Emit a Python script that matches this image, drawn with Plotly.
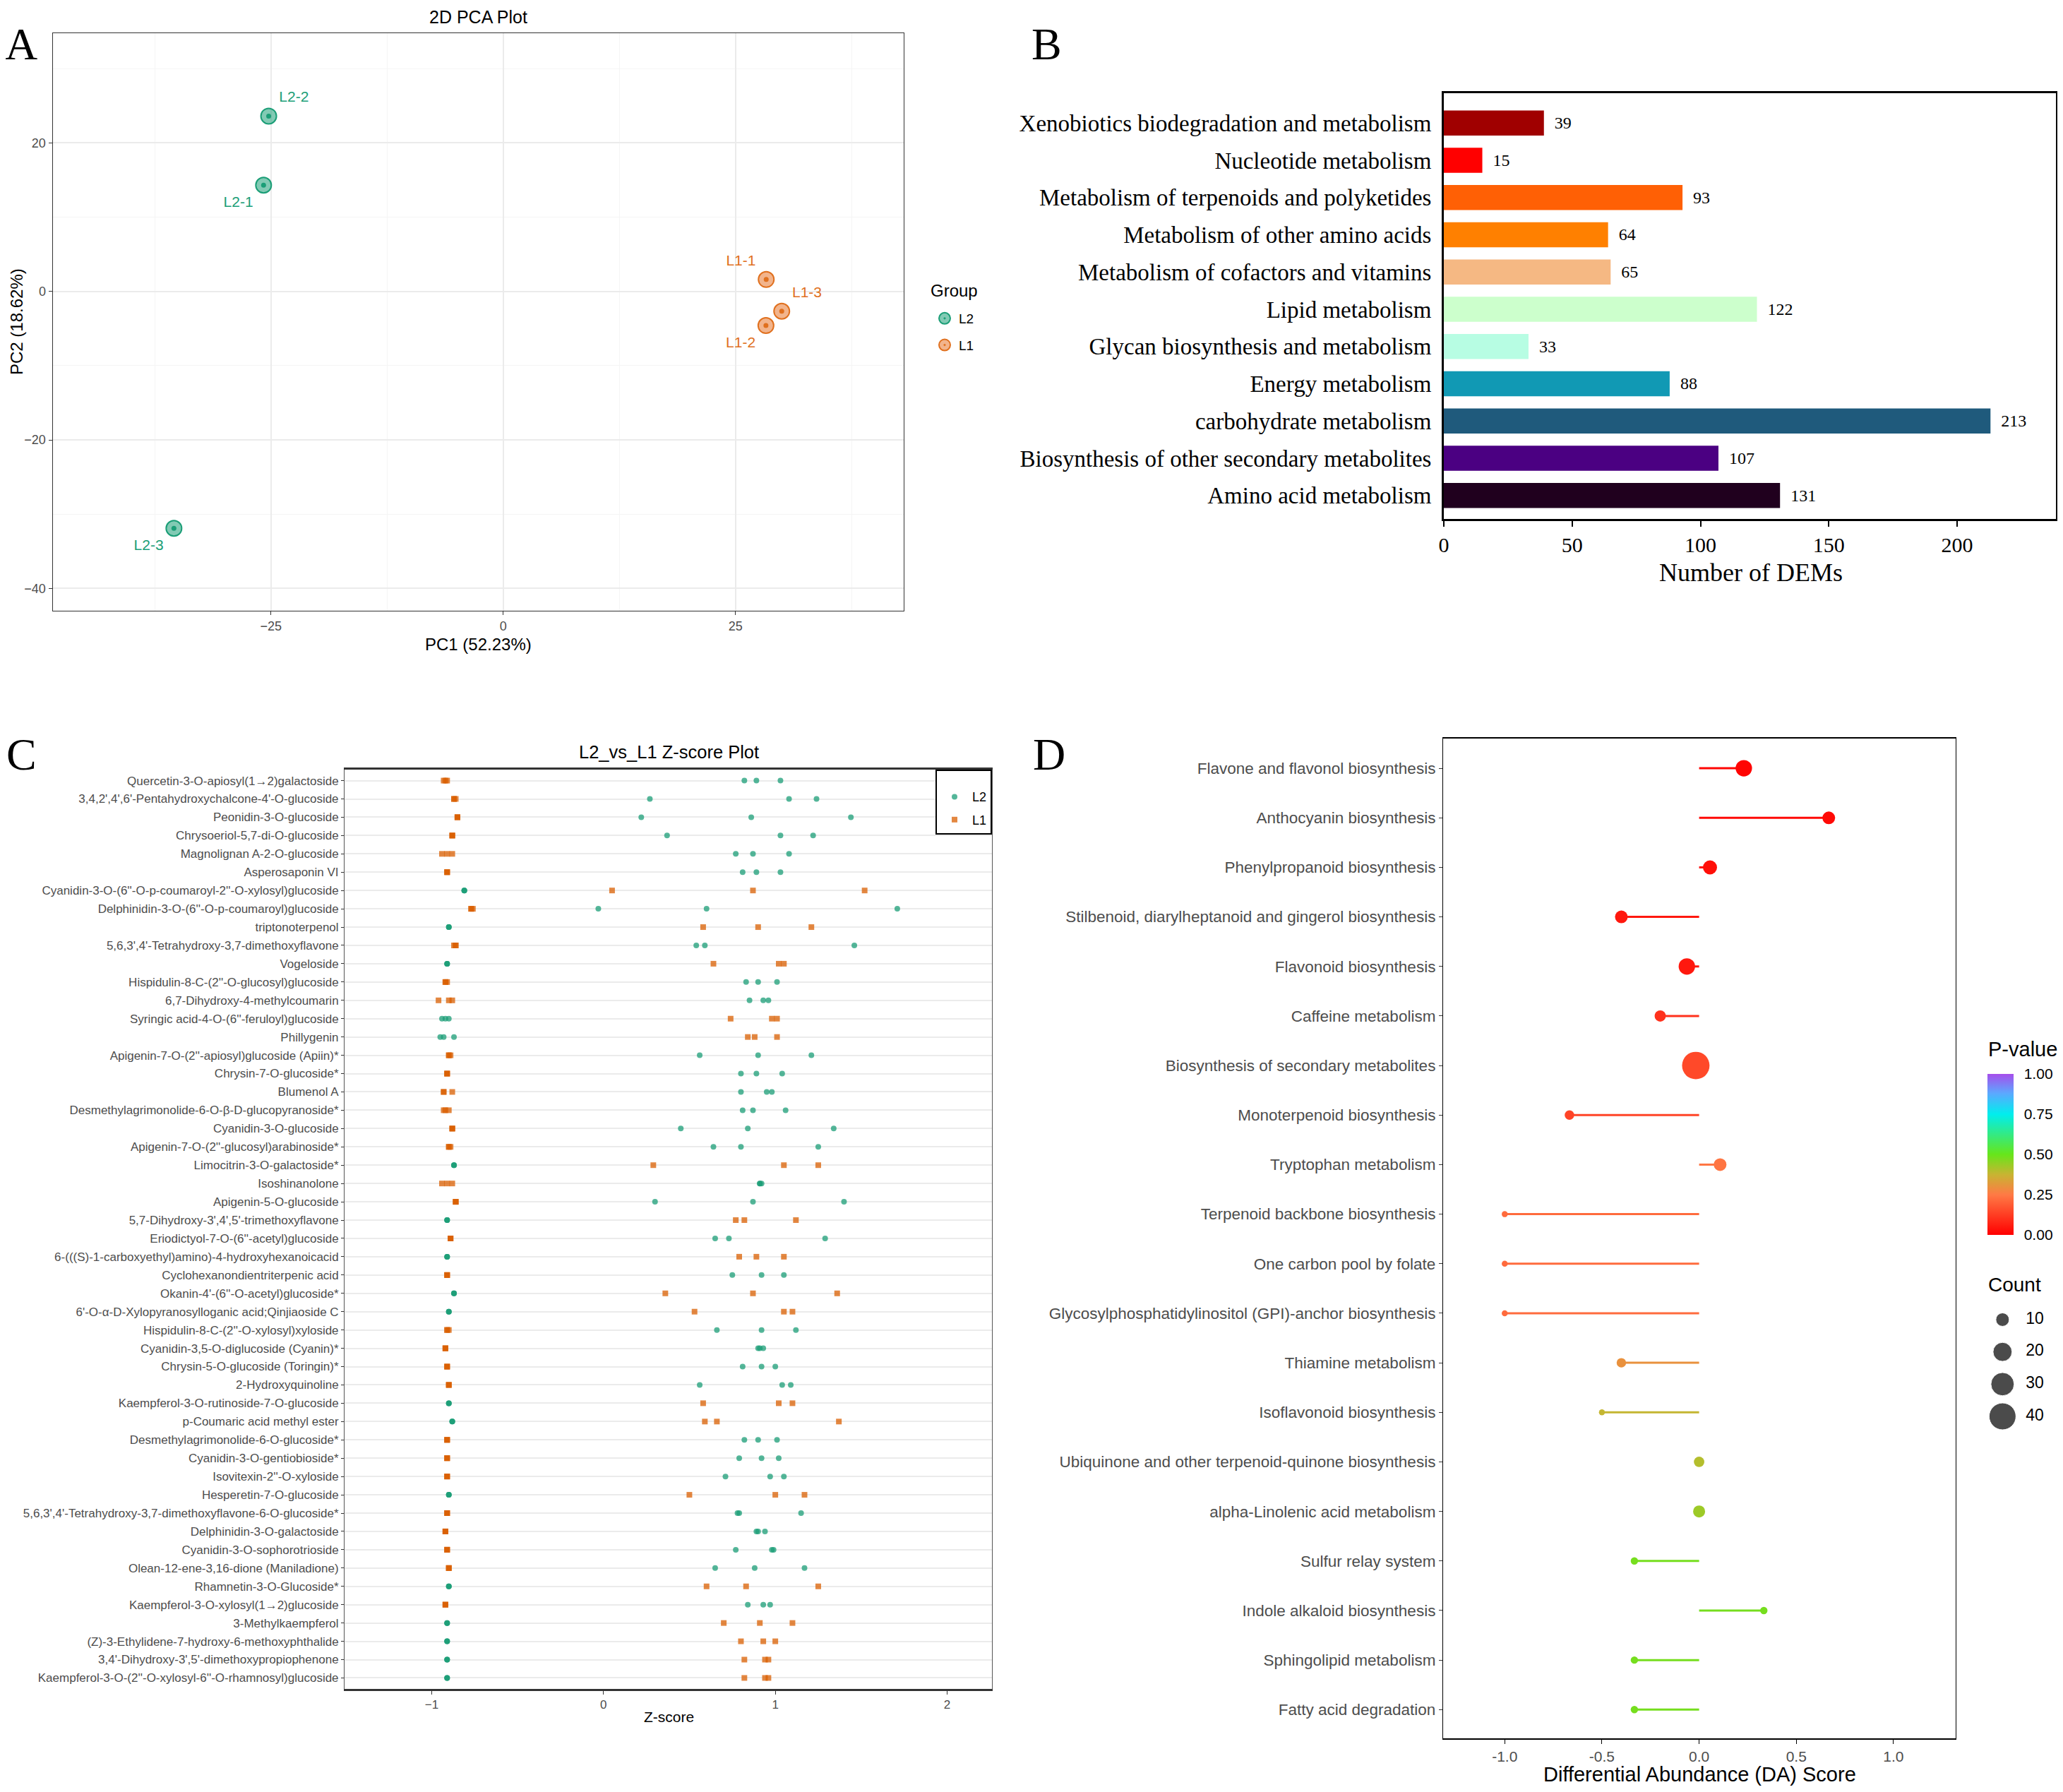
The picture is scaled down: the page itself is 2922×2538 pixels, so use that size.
import plotly.graph_objects as go
from plotly.colors import sample_colorscale

W, H = 2922, 2538
OFF = 8  # default page body margin
FW, FH = W - 2 * OFF, H - 2 * OFF
SANS = "Liberation Sans, Arial, sans-serif"
SERIF = "Liberation Serif, Times New Roman, serif"

# ---------------- Panel A data ----------------
l2_samples = ["L2-1", "L2-2", "L2-3"]
l2_pc1 = [-25.8, -25.25, -35.45]
l2_pc2 = [14.3, 23.6, -31.9]
l1_samples = ["L1-1", "L1-2", "L1-3"]
l1_pc1 = [28.3, 28.27, 29.97]
l1_pc2 = [1.6, -4.6, -2.67]

# ---------------- Panel B data ----------------
b_categories = [
    "Xenobiotics biodegradation and metabolism",
    "Nucleotide metabolism",
    "Metabolism of terpenoids and polyketides",
    "Metabolism of other amino acids",
    "Metabolism of cofactors and vitamins",
    "Lipid metabolism",
    "Glycan biosynthesis and metabolism",
    "Energy metabolism",
    "carbohydrate metabolism",
    "Biosynthesis of other secondary metabolites",
    "Amino acid metabolism",
]
b_counts = [39, 15, 93, 64, 65, 122, 33, 88, 213, 107, 131]
b_colors = ["#A00000", "#FF0000", "#FF6005", "#FF8000", "#F5B883", "#CCFFCC",
            "#B7FDE3", "#1199B4", "#1F5A7C", "#4B0082", "#20001E"]

# ---------------- Panel C data ----------------
c_compounds = [
    "Quercetin-3-O-apiosyl(1→2)galactoside",
    "3,4,2',4',6'-Pentahydroxychalcone-4'-O-glucoside",
    "Peonidin-3-O-glucoside",
    "Chrysoeriol-5,7-di-O-glucoside",
    "Magnolignan A-2-O-glucoside",
    "Asperosaponin VI",
    "Cyanidin-3-O-(6''-O-p-coumaroyl-2''-O-xylosyl)glucoside",
    "Delphinidin-3-O-(6''-O-p-coumaroyl)glucoside",
    "triptonoterpenol",
    "5,6,3',4'-Tetrahydroxy-3,7-dimethoxyflavone",
    "Vogeloside",
    "Hispidulin-8-C-(2''-O-glucosyl)glucoside",
    "6,7-Dihydroxy-4-methylcoumarin",
    "Syringic acid-4-O-(6''-feruloyl)glucoside",
    "Phillygenin",
    "Apigenin-7-O-(2''-apiosyl)glucoside (Apiin)*",
    "Chrysin-7-O-glucoside*",
    "Blumenol A",
    "Desmethylagrimonolide-6-O-β-D-glucopyranoside*",
    "Cyanidin-3-O-glucoside",
    "Apigenin-7-O-(2''-glucosyl)arabinoside*",
    "Limocitrin-3-O-galactoside*",
    "Isoshinanolone",
    "Apigenin-5-O-glucoside",
    "5,7-Dihydroxy-3',4',5'-trimethoxyflavone",
    "Eriodictyol-7-O-(6''-acetyl)glucoside",
    "6-(((S)-1-carboxyethyl)amino)-4-hydroxyhexanoicacid",
    "Cyclohexanondientriterpenic acid",
    "Okanin-4'-(6''-O-acetyl)glucoside*",
    "6'-O-α-D-Xylopyranosylloganic acid;Qinjiaoside C",
    "Hispidulin-8-C-(2''-O-xylosyl)xyloside",
    "Cyanidin-3,5-O-diglucoside (Cyanin)*",
    "Chrysin-5-O-glucoside (Toringin)*",
    "2-Hydroxyquinoline",
    "Kaempferol-3-O-rutinoside-7-O-glucoside",
    "p-Coumaric acid methyl ester",
    "Desmethylagrimonolide-6-O-glucoside*",
    "Cyanidin-3-O-gentiobioside*",
    "Isovitexin-2''-O-xyloside",
    "Hesperetin-7-O-glucoside",
    "5,6,3',4'-Tetrahydroxy-3,7-dimethoxyflavone-6-O-glucoside*",
    "Delphinidin-3-O-galactoside",
    "Cyanidin-3-O-sophorotrioside",
    "Olean-12-ene-3,16-dione (Maniladione)",
    "Rhamnetin-3-O-Glucoside*",
    "Kaempferol-3-O-xylosyl(1→2)glucoside",
    "3-Methylkaempferol",
    "(Z)-3-Ethylidene-7-hydroxy-6-methoxyphthalide",
    "3,4'-Dihydroxy-3',5'-dimethoxypropiophenone",
    "Kaempferol-3-O-(2''-O-xylosyl-6''-O-rhamnosyl)glucoside",
]
c_l2 = [
    [0.82, 0.89, 1.03], [0.27, 1.08, 1.24], [0.22, 0.86, 1.44], [0.37, 1.03, 1.22],
    [0.77, 0.87, 1.08], [0.81, 0.89, 1.03], [-0.81, -0.81, -0.81], [-0.03, 0.60, 1.71],
    [-0.90, -0.90, -0.90], [0.54, 0.59, 1.46], [-0.91, -0.91, -0.91], [0.83, 0.90, 1.01],
    [0.85, 0.93, 0.96], [-0.94, -0.92, -0.90], [-0.95, -0.93, -0.87], [0.56, 0.90, 1.21],
    [0.80, 0.89, 1.04], [0.80, 0.95, 0.98], [0.81, 0.87, 1.06], [0.45, 0.84, 1.34],
    [0.64, 0.80, 1.25], [-0.87, -0.87, -0.87], [0.91, 0.91, 0.92], [0.30, 0.87, 1.40],
    [-0.91, -0.91, -0.91], [0.65, 0.73, 1.29], [-0.91, -0.91, -0.91], [0.75, 0.92, 1.05],
    [-0.87, -0.87, -0.87], [-0.90, -0.90, -0.90], [0.66, 0.92, 1.12], [0.90, 0.91, 0.93],
    [0.81, 0.92, 1.00], [0.56, 1.04, 1.09], [-0.90, -0.90, -0.90], [-0.88, -0.88, -0.88],
    [0.82, 0.90, 1.01], [0.79, 0.92, 1.02], [0.71, 0.97, 1.05], [-0.90, -0.90, -0.90],
    [0.78, 0.79, 1.15], [0.89, 0.90, 0.94], [0.77, 0.98, 0.99], [0.65, 0.88, 1.17],
    [-0.90, -0.90, -0.90], [0.84, 0.93, 0.97], [-0.91, -0.91, -0.91], [-0.91, -0.91, -0.91],
    [-0.91, -0.91, -0.91], [-0.91, -0.91, -0.91],
]
c_l1 = [
    [-0.93, -0.92, -0.91], [-0.87, -0.87, -0.86], [-0.85, -0.85, -0.85], [-0.88, -0.88, -0.88],
    [-0.94, -0.91, -0.88], [-0.91, -0.91, -0.91], [0.05, 0.87, 1.52], [-0.77, -0.77, -0.76],
    [0.58, 0.90, 1.21], [-0.87, -0.86, -0.86], [0.64, 1.02, 1.05], [-0.92, -0.92, -0.91],
    [-0.96, -0.90, -0.88], [0.74, 0.98, 1.01], [0.84, 0.88, 1.01], [-0.90, -0.90, -0.89],
    [-0.91, -0.91, -0.91], [-0.93, -0.93, -0.88], [-0.93, -0.92, -0.90], [-0.88, -0.88, -0.88],
    [-0.90, -0.90, -0.89], [0.29, 1.05, 1.25], [-0.94, -0.91, -0.88], [-0.86, -0.86, -0.86],
    [0.77, 0.82, 1.12], [-0.89, -0.89, -0.89], [0.79, 0.89, 1.05], [-0.91, -0.91, -0.91],
    [0.36, 0.87, 1.36], [0.53, 1.05, 1.10], [-0.91, -0.91, -0.90], [-0.92, -0.92, -0.92],
    [-0.91, -0.91, -0.91], [-0.90, -0.90, -0.90], [0.58, 1.02, 1.10], [0.59, 0.66, 1.37],
    [-0.91, -0.91, -0.91], [-0.91, -0.91, -0.91], [-0.91, -0.91, -0.91], [0.50, 1.00, 1.17],
    [-0.91, -0.91, -0.91], [-0.92, -0.92, -0.92], [-0.91, -0.91, -0.91], [-0.90, -0.90, -0.90],
    [0.60, 0.83, 1.25], [-0.92, -0.92, -0.92], [0.70, 0.91, 1.10], [0.80, 0.93, 1.00],
    [0.82, 0.94, 0.96], [0.82, 0.94, 0.96],
]

# ---------------- Panel D data ----------------
d_pathways = [
    "Flavone and flavonol biosynthesis",
    "Anthocyanin biosynthesis",
    "Phenylpropanoid biosynthesis",
    "Stilbenoid, diarylheptanoid and gingerol biosynthesis",
    "Flavonoid biosynthesis",
    "Caffeine metabolism",
    "Biosynthesis of secondary metabolites",
    "Monoterpenoid biosynthesis",
    "Tryptophan metabolism",
    "Terpenoid backbone biosynthesis",
    "One carbon pool by folate",
    "Glycosylphosphatidylinositol (GPI)-anchor biosynthesis",
    "Thiamine metabolism",
    "Isoflavonoid biosynthesis",
    "Ubiquinone and other terpenoid-quinone biosynthesis",
    "alpha-Linolenic acid metabolism",
    "Sulfur relay system",
    "Indole alkaloid biosynthesis",
    "Sphingolipid metabolism",
    "Fatty acid degradation",
]
d_da = [0.23, 0.667, 0.056, -0.40, -0.063, -0.20, -0.017, -0.667, 0.108, -1.0,
        -1.0, -1.0, -0.40, -0.50, 0.0, 0.0, -0.333, 0.333, -0.333, -0.333]
d_count = [15, 9, 11, 9, 15, 7, 42, 5, 9, 2, 2, 2, 5, 2, 6, 8, 3, 3, 3, 3]
d_pval = [0.01, 0.02, 0.03, 0.05, 0.05, 0.10, 0.15, 0.14, 0.24, 0.22,
          0.22, 0.22, 0.30, 0.38, 0.40, 0.43, 0.48, 0.48, 0.48, 0.48]
count_legend = [10, 20, 30, 40]
pval_ticks = [0, 0.25, 0.5, 0.75, 1.0]

colorscale = [[0.0, "#FF0000"], [0.25, "#FF7A45"], [0.375, "#C8B432"], [0.5, "#66E61A"],
              [0.75, "#00EEEE"], [0.88, "#5CA8FF"], [1.0, "#A64DEB"]]

TEAL = "#1B9E77"
ORANGE = "#D95F02"


def fx(p):
    return (p - OFF) / FW


def fy(p):
    return 1 - (p - OFF) / FH


fig = go.Figure()

# ---------- Panel A ----------
for names, xs, ys, col, fill, grp, pos in [
    (l2_samples, l2_pc1, l2_pc2, TEAL, "rgba(27,158,119,0.55)", "L2",
     ["bottom left", "top right", "bottom left"]),
    (l1_samples, l1_pc1, l1_pc2, "#E0701E", "rgba(232,119,46,0.55)", "L1",
     ["top left", "bottom left", "top right"]),
]:
    fig.add_trace(go.Scatter(
        x=xs, y=ys, mode="markers+text", text=names, textposition=pos,
        textfont=dict(size=21, color=col, family=SANS),
        marker=dict(symbol="circle-dot", size=22, color=fill, line=dict(color=col, width=2)),
        name=grp, legend="legend", legendgroup="A" + grp, xaxis="x", yaxis="y",
        hoverinfo="skip"))
    fig.add_trace(go.Scatter(
        x=xs, y=ys, mode="markers", marker=dict(size=7, color=col),
        showlegend=False, xaxis="x", yaxis="y", hoverinfo="skip"))

# ---------- Panel B ----------
fig.add_trace(go.Bar(
    x=b_counts, y=b_categories, orientation="h", marker=dict(color=b_colors, line=dict(width=0)),
    width=0.67, text=b_counts, texttemplate="  %{text}", textposition="outside",
    cliponaxis=False, textfont=dict(family=SERIF, size=24, color="black"),
    showlegend=False, xaxis="x2", yaxis="y2"))

# ---------- Panel C ----------
l2x, l2y, l1x, l1y = [], [], [], []
for name, a, b in zip(c_compounds, c_l2, c_l1):
    for v in a:
        l2x.append(v)
        l2y.append(name)
    for v in b:
        l1x.append(v)
        l1y.append(name)
fig.add_trace(go.Scatter(
    x=l2x, y=l2y, mode="markers", name="L2", legend="legend2", legendgroup="CL2",
    marker=dict(symbol="circle", size=8, color="rgba(27,158,119,0.75)", line=dict(width=0)),
    xaxis="x3", yaxis="y3"))
fig.add_trace(go.Scatter(
    x=l1x, y=l1y, mode="markers", name="L1", legend="legend2", legendgroup="CL1",
    marker=dict(symbol="square", size=8, color="rgba(217,95,2,0.75)", line=dict(width=0)),
    xaxis="x3", yaxis="y3"))

# ---------- Panel D ----------
seg_colors = sample_colorscale(colorscale, d_pval)
for p, v, c in zip(d_pathways, d_da, seg_colors):
    fig.add_trace(go.Scatter(
        x=[0, v], y=[p, p], mode="lines", line=dict(color=c, width=3),
        showlegend=False, xaxis="x4", yaxis="y4", hoverinfo="skip"))
SIZEREF = 20 / 361
fig.add_trace(go.Scatter(
    x=d_da, y=d_pathways, mode="markers",
    marker=dict(size=d_count, sizemode="area", sizeref=SIZEREF, color=d_pval,
                coloraxis="coloraxis", line=dict(width=0), opacity=1),
    showlegend=False, xaxis="x4", yaxis="y4"))
# size legend
fig.add_trace(go.Scatter(
    x=[0.22] * len(count_legend), y=count_legend, mode="markers",
    marker=dict(size=count_legend, sizemode="area", sizeref=SIZEREF, color="black"),
    showlegend=False, xaxis="x5", yaxis="y5", hoverinfo="skip"))
fig.add_trace(go.Scatter(
    x=[0.56] * len(count_legend), y=count_legend, mode="text",
    text=[str(c) for c in count_legend], textposition="middle right",
    textfont=dict(size=23, color="black", family=SANS),
    showlegend=False, xaxis="x5", yaxis="y5", hoverinfo="skip"))

GRID = "#EBEBEB"
TICKC = "#4D4D4D"

fig.update_layout(
    width=FW, height=FH, margin=dict(l=0, r=0, t=0, b=0, autoexpand=False),
    paper_bgcolor="white", plot_bgcolor="white",
    font=dict(family=SANS, color="black"),
    # A
    xaxis=dict(domain=[fx(74.6), fx(1280)], anchor="y", range=[-48.5, 43.1], automargin=False,
               tick0=0, dtick=25, showgrid=True, gridcolor=GRID, gridwidth=1.5,
               minor=dict(dtick=12.5, tick0=0, showgrid=True, gridcolor="#F5F5F5", gridwidth=1),
               zeroline=False, showline=True, linecolor="#333333", linewidth=1.2, mirror=True,
               ticks="outside", ticklen=5, tickcolor="#333333",
               tickfont=dict(size=18, color=TICKC)),
    yaxis=dict(domain=[fy(865), fy(46.6)], anchor="x", range=[-43, 34.8], automargin=False,
               tick0=0, dtick=20, showgrid=True, gridcolor=GRID, gridwidth=1.5,
               minor=dict(dtick=10, tick0=0, showgrid=True, gridcolor="#F5F5F5", gridwidth=1),
               zeroline=False, showline=True, linecolor="#333333", linewidth=1.2, mirror=True,
               ticks="outside", ticklen=5, tickcolor="#333333",
               tickfont=dict(size=18, color=TICKC)),
    # B
    xaxis2=dict(domain=[fx(2045), fx(2912)], anchor="y2", range=[0, 238.5], automargin=False,
                tickvals=[0, 50, 100, 150, 200], showgrid=False, zeroline=False,
                showline=True, linecolor="black", linewidth=3, mirror=True,
                ticks="outside", ticklen=8, tickwidth=2, tickcolor="black",
                tickfont=dict(family=SERIF, size=30, color="black")),
    yaxis2=dict(domain=[fy(735), fy(132)], anchor="x2", type="category", automargin=False,
                categoryorder="array", categoryarray=b_categories, range=[10.63, -0.8],
                showgrid=False, zeroline=False, showline=True, linecolor="black",
                linewidth=3, mirror=True, ticks="", ticklabelstandoff=8,
                tickfont=dict(family=SERIF, size=33, color="black")),
    # C
    xaxis3=dict(domain=[fx(488), fx(1405)], anchor="y3", range=[-1.507, 2.261], automargin=False,
                tickvals=[-1, 0, 1, 2], showgrid=False, zeroline=False,
                showline=True, linecolor="#333333", linewidth=2.5, mirror=True,
                ticks="outside", ticklen=5, tickcolor="#333333",
                tickfont=dict(size=17, color=TICKC)),
    yaxis3=dict(domain=[fy(2392), fy(1090)], anchor="x3", type="category", automargin=False,
                categoryorder="array", categoryarray=c_compounds, range=[49.6, -0.6],
                showgrid=True, gridcolor=GRID, gridwidth=1.5, zeroline=False,
                showline=True, linecolor="#555555", linewidth=1, mirror=True,
                ticks="outside", ticklen=4, tickcolor="#333333",
                tickfont=dict(size=17, color=TICKC)),
    # D
    xaxis4=dict(domain=[fx(2044), fx(2770)], anchor="y4", range=[-1.317, 1.32], automargin=False,
                tickvals=[-1, -0.5, 0, 0.5, 1], ticktext=["-1.0", "-0.5", "0.0", "0.5", "1.0"],
                showgrid=False, zeroline=False, showline=True, linecolor="black",
                linewidth=2, mirror=True, ticks="outside", ticklen=6, tickcolor="black",
                tickfont=dict(size=21, color=TICKC)),
    yaxis4=dict(domain=[fy(2462), fy(1046)], anchor="x4", type="category", automargin=False,
                categoryorder="array", categoryarray=d_pathways, range=[19.58, -0.6],
                showgrid=False, zeroline=False, showline=True, linecolor="black",
                linewidth=1.2, mirror=True, ticks="outside", ticklen=5, tickcolor="#333333",
                tickfont=dict(size=22.5, color=TICKC)),
    xaxis5=dict(domain=[fx(2815), fx(2912)], anchor="y5", range=[0, 1], visible=False),
    yaxis5=dict(domain=[fy(2030), fy(1845)], anchor="x5", range=[45.25, 4.75], visible=False),
    coloraxis=dict(
        colorscale=colorscale, cmin=0, cmax=1,
        colorbar=dict(x=fx(2805), xanchor="left", y=fy(1521), yanchor="top", ypad=0,
                      len=228, lenmode="pixels", thickness=37, outlinewidth=0,
                      tickvals=pval_ticks, ticktext=["0.00", "0.25", "0.50", "0.75", "1.00"],
                      ticks="outside", ticklen=11, tickcolor="rgba(0,0,0,0)",
                      tickfont=dict(size=21, color="black"))),
    legend=dict(x=fx(1318), y=fy(432), xanchor="left", yanchor="top",
                font=dict(size=19, color="black"), bgcolor="rgba(0,0,0,0)",
                traceorder="grouped", tracegroupgap=10),
    legend2=dict(x=fx(1405), y=fy(1090), xanchor="right", yanchor="top",
                 title=dict(text=" ", font=dict(size=14)),
                 font=dict(size=18, color="black"), bgcolor="white",
                 bordercolor="black", borderwidth=2, traceorder="grouped",
                 tracegroupgap=6, itemwidth=40),
)

ann = [
    dict(text="A", x=fx(30), y=fy(62), font=dict(family=SERIF, size=64)),
    dict(text="B", x=fx(1482), y=fy(62), font=dict(family=SERIF, size=64)),
    dict(text="C", x=fx(30), y=fy(1068), font=dict(family=SERIF, size=64)),
    dict(text="D", x=fx(1486), y=fy(1068), font=dict(family=SERIF, size=64)),
    dict(text="2D PCA Plot", x=fx(677), y=fy(24), font=dict(size=25)),
    dict(text="PC1 (52.23%)", x=fx(677), y=fy(912), font=dict(size=24)),
    dict(text="PC2 (18.62%)", x=fx(23), y=fy(456), font=dict(size=24), textangle=-90),
    dict(text="Group", x=fx(1316), y=fy(412), xanchor="left", font=dict(size=24)),
    dict(text="Number of DEMs", x=fx(2480), y=fy(811), font=dict(family=SERIF, size=36)),
    dict(text="L2_vs_L1 Z-score Plot", x=fx(947), y=fy(1065), font=dict(size=25.5)),
    dict(text="Z-score", x=fx(947), y=fy(2431), font=dict(size=21)),
    dict(text="Differential Abundance (DA) Score", x=fx(2407), y=fy(2513), font=dict(size=29)),
    dict(text="P-value", x=fx(2814), y=fy(1486), xanchor="left", font=dict(size=29)),
    dict(text="Count", x=fx(2814), y=fy(1819), xanchor="left", font=dict(size=28)),
]
for a in ann:
    a.setdefault("xanchor", "center")
    fig.add_annotation(xref="paper", yref="paper", showarrow=False, yanchor="middle",
                       **{k: v for k, v in a.items()})

fig.write_html("out.html")
